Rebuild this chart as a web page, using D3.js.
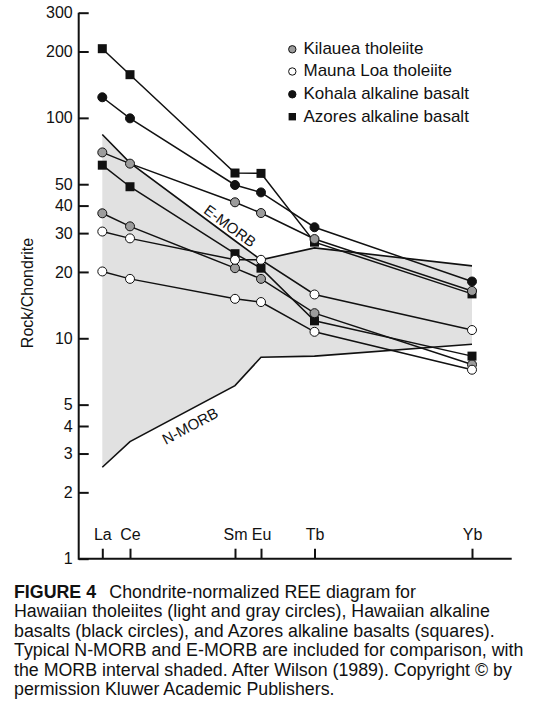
<!DOCTYPE html>
<html>
<head>
<meta charset="utf-8">
<script src="https://cdn.jsdelivr.net/npm/d3@7"></script>
<style>
  body { margin: 0; background: #fff; }
  svg { display: block; }
</style>
</head>
<body>
<div id="chart"></div>
<script>
// REE data, chondrite-normalized
const elements = ["La", "Ce", "Sm", "Eu", "Tb", "Yb"];
const atomicNumbers = [57, 58, 62, 63, 65, 70];
const yTickValues = [1, 2, 3, 4, 5, 10, 20, 30, 40, 50, 100, 200, 300];

const kilaueaA = [69.7, 62, 41.4, 37, 28.2, 16.4];
const kilaueaB = [36.9, 32.2, 20.8, 18.6, 13, 7.6];
const maunaLoaA = [30.5, 28.4, 22.7, 22.7, 15.8, 10.9];
const maunaLoaB = [20.1, 18.6, 15.1, 14.6, 10.7, 7.2];
const kohala = [124, 99.5, 49.6, 45.9, 31.9, 18.1];
const azoresA = [206, 157, 56.2, 56, 27.3, 15.9];
const azoresB = [61, 48.7, 24.2, 20.8, 12, 8.3];
const eMorb = [84, 62.5, 27.7, 22.7, 25.7, 21.3];
const nMorb = [2.6, 3.4, 6.1, 8.2, 8.3, 9.4];

const legendLabels = ["Kilauea tholeiite", "Mauna Loa tholeiite", "Kohala alkaline basalt", "Azores alkaline basalt"];

const captionLines = [
    "Hawaiian tholeiites (light and gray circles), Hawaiian alkaline",
    "basalts (black circles), and Azores alkaline basalts (squares).",
    "Typical N-MORB and E-MORB are included for comparison, with",
    "the MORB interval shaded. After Wilson (1989). Copyright \u00a9 by",
    "permission Kluwer Academic Publishers."
];

let width = 540,
    height = 714;

let font = "'Liberation Sans', Arial, Helvetica, sans-serif";
let ink = "#111";

let svg = d3.select("#chart")
    .append("svg")
    .attr("width", width)
    .attr("height", height);

// axes frame
let axisX = 78.7,
    axisY = 558.7,
    axisRight = 511.7;

// element spacing on the original drawing is not quite uniform
let x = d3.scaleLinear()
    .domain(atomicNumbers)
    .range([102.3, 130, 235, 261, 314.5, 472]);

let y = d3.scaleLog()
    .domain([1, 300])
    .range([axisY, 12.7]);

let markerStyles = {
    gray:   { shape: "circle", fill: "#9c9c9c" },
    white:  { shape: "circle", fill: "#fff" },
    black:  { shape: "circle", fill: "#111" },
    square: { shape: "square", fill: "#111" }
};

// squares first so the circles sit on top, as in the figure
let series = [
    { values: azoresA, style: "square" },
    { values: azoresB, style: "square" },
    { values: kohala, style: "black" },
    { values: kilaueaA, style: "gray" },
    { values: kilaueaB, style: "gray" },
    { values: maunaLoaA, style: "white" },
    { values: maunaLoaB, style: "white" }
];

let toPoints = function(values) {
    return values.map(function(v, i) { return { z: atomicNumbers[i], v: v }; });
};

// MORB interval
let morb = atomicNumbers.map(function(z, i) {
    return { z: z, lo: nMorb[i], hi: eMorb[i] };
});

let area = d3.area()
    .x(function(d) { return x(d.z); })
    .y0(function(d) { return y(d.lo); })
    .y1(function(d) { return y(d.hi); });

svg.append("path")
    .datum(morb)
    .attr("d", area)
    .attr("fill", "#e1e1e1");

let line = d3.line()
    .x(function(d) { return x(d.z); })
    .y(function(d) { return y(d.v); });

[eMorb, nMorb].forEach(function(vals) {
    svg.append("path")
        .datum(toPoints(vals))
        .attr("d", line)
        .attr("fill", "none")
        .attr("stroke", ink)
        .attr("stroke-width", 1.6);
});

// MORB labels, rotated along their lines
let angleOf = function(vals, i, j) {
    let dx = x(atomicNumbers[j]) - x(atomicNumbers[i]);
    let dy = y(vals[j]) - y(vals[i]);
    return Math.atan2(dy, dx) * 180 / Math.PI;
};

svg.append("text")
    .attr("transform", "translate(230,226) rotate(" + angleOf(eMorb, 1, 3) + ")")
    .attr("text-anchor", "middle")
    .attr("dy", "0.35em")
    .style("font-family", font)
    .style("font-size", "15px")
    .attr("fill", ink)
    .text("E-MORB");

svg.append("text")
    .attr("transform", "translate(190,426) rotate(" + angleOf(nMorb, 1, 2) + ")")
    .attr("text-anchor", "middle")
    .attr("dy", "0.35em")
    .style("font-family", font)
    .style("font-size", "15px")
    .attr("fill", ink)
    .text("N-MORB");

// series lines
let gLines = svg.append("g").attr("class", "lines");
series.forEach(function(s) {
    gLines.append("path")
        .datum(toPoints(s.values))
        .attr("d", line)
        .attr("fill", "none")
        .attr("stroke", ink)
        .attr("stroke-width", 1.5);
});

function drawMarker(g, style, cx, cy, r) {
    let m = markerStyles[style];
    if (m.shape === "square") {
        g.append("rect")
            .attr("x", cx - r)
            .attr("y", cy - r)
            .attr("width", r * 2)
            .attr("height", r * 2)
            .attr("fill", m.fill);
    } else {
        g.append("circle")
            .attr("cx", cx)
            .attr("cy", cy)
            .attr("r", r)
            .attr("fill", m.fill)
            .attr("stroke", ink)
            .attr("stroke-width", 1);
    }
}

let gMarks = svg.append("g").attr("class", "markers");
series.forEach(function(s) {
    toPoints(s.values).forEach(function(d) {
        drawMarker(gMarks, s.style, x(d.z), y(d.v), 4.5);
    });
});

// y axis, ticks pointing into the plot
let yAxis = d3.axisLeft(y)
    .tickValues(yTickValues)
    .tickFormat(d3.format("d"))
    .tickSizeInner(-10)
    .tickSizeOuter(0)
    .tickPadding(6);

let gy = svg.append("g")
    .attr("transform", "translate(" + axisX + ",0)")
    .call(yAxis);
gy.select(".domain").remove();
gy.selectAll(".tick line").attr("stroke", ink).attr("stroke-width", 2);
gy.selectAll(".tick text")
    .style("font-family", font)
    .style("font-size", "16px")
    .attr("fill", ink);

// x axis, labels sit above the baseline
let xAxis = d3.axisBottom(x)
    .tickValues(atomicNumbers)
    .tickFormat(function(d, i) { return elements[i]; })
    .tickSizeInner(-10)
    .tickSizeOuter(0);

let gx = svg.append("g")
    .attr("transform", "translate(0," + axisY + ")")
    .call(xAxis);
gx.select(".domain").remove();
gx.selectAll(".tick line").attr("stroke", ink).attr("stroke-width", 2);
gx.selectAll(".tick text")
    .attr("y", -30)
    .style("font-family", font)
    .style("font-size", "16px")
    .attr("fill", ink);

svg.append("path")
    .attr("d", "M" + axisX + "," + y.range()[1] + "V" + axisY + "H" + axisRight)
    .attr("fill", "none")
    .attr("stroke", ink)
    .attr("stroke-width", 2);

svg.append("text")
    .attr("transform", "translate(33,293) rotate(-90)")
    .attr("text-anchor", "middle")
    .style("font-family", font)
    .style("font-size", "16px")
    .attr("fill", ink)
    .text("Rock/Chondrite");

// legend
let legendStyles = ["gray", "white", "black", "square"];
let legendRows = [49.3, 71.5, 94.3, 116.7];
let legend = svg.append("g").attr("class", "legend");
legendLabels.forEach(function(label, i) {
    drawMarker(legend, legendStyles[i], 292.3, legendRows[i], 3.7);
    legend.append("text")
        .attr("x", 303.5)
        .attr("y", legendRows[i] - 1)
        .attr("dy", "0.35em")
        .style("font-family", font)
        .style("font-size", "17px")
        .attr("fill", ink)
        .text(label);
});

// caption, sized so the widest line spans like the original
let capFont = font;
let cap = svg.append("g").attr("class", "caption");
let capSize = 15;

let probe = cap.append("text")
    .style("font-family", capFont)
    .style("font-size", capSize + "px")
    .text(captionLines[0]);
capSize = capSize * 476 / probe.node().getComputedTextLength();
probe.remove();

let head = cap.append("text")
    .attr("x", 14)
    .attr("y", 597.5)
    .style("font-family", capFont)
    .style("font-size", capSize + "px")
    .attr("fill", ink);
head.append("tspan")
    .style("font-weight", "bold")
    .text("FIGURE 4");
head.append("tspan")
    .attr("x", 109.3)
    .text("Chondrite-normalized REE diagram for");

captionLines.forEach(function(t, i) {
    cap.append("text")
        .attr("x", 14)
        .attr("y", 617 + i * 19.5)
        .style("font-family", capFont)
        .style("font-size", capSize + "px")
        .attr("fill", ink)
        .text(t);
});
</script>
</body>
</html>
